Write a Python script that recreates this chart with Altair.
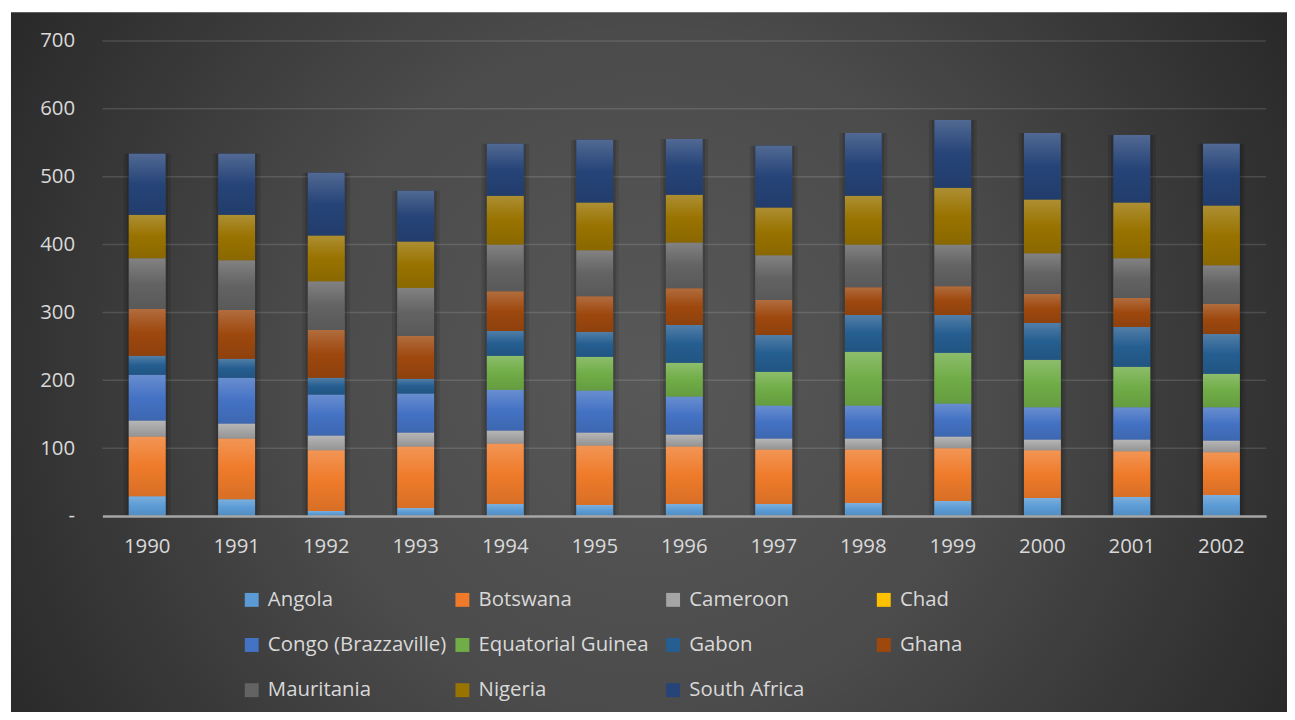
import altair as alt
import pandas as pd

years = ["1990", "1991", "1992", "1993", "1994", "1995", "1996",
         "1997", "1998", "1999", "2000", "2001", "2002"]
countries = ["Angola", "Botswana", "Cameroon", "Chad", "Congo (Brazzaville)",
             "Equatorial Guinea", "Gabon", "Ghana", "Mauritania", "Nigeria",
             "South Africa"]
colors = ["#5b9bd5", "#ef7b2a", "#a5a5a5", "#ffc000", "#4472c4",
          "#70ad47", "#255e91", "#9e480e", "#636363", "#997300", "#264478"]

angola = [29.3, 24.9, 7.3, 11.7, 17.6, 16.1, 17.6, 17.6, 19.1, 22.0, 26.4, 27.9, 30.8]
botswana = [88.0, 89.5, 89.5, 90.9, 89.4, 88.0, 85.0, 80.6, 79.1, 77.7, 70.4, 67.4, 63.0]
cameroon = [23.5, 22.0, 22.0, 20.6, 19.1, 19.1, 17.6, 16.2, 16.2, 17.6, 16.1, 17.6, 17.6]
chad = [0, 0, 0, 0, 0, 0, 0, 0, 0, 0, 0, 0, 0]
congo = [67.2, 67.4, 60.1, 57.2, 60.1, 61.6, 55.8, 48.4, 48.4, 48.4, 47.4, 47.4, 48.9]
eq_guinea = [0, 0, 0, 0, 49.9, 49.8, 49.8, 49.8, 79.1, 74.8, 69.9, 59.6, 49.4]
gabon = [28.0, 27.9, 24.9, 21.9, 36.6, 36.7, 55.7, 54.3, 54.3, 55.7, 54.3, 58.7, 58.6]
ghana = [69.0, 71.8, 70.4, 63.1, 58.7, 52.7, 54.3, 51.3, 41.0, 42.5, 42.5, 42.5, 44.0]
mauritania = [74.8, 73.5, 71.8, 70.8, 68.9, 67.5, 67.4, 66.0, 63.1, 61.6, 60.1, 58.7, 57.2]
nigeria = [64.2, 67.0, 67.5, 68.5, 71.8, 70.4, 70.4, 70.3, 71.8, 83.6, 79.2, 82.1, 88.0]
south_africa = [89.7, 89.7, 92.4, 74.8, 76.3, 92.4, 82.1, 91.0, 92.4, 99.7, 98.2, 99.7, 90.9]

y_ticks = [0, 100, 200, 300, 400, 500, 600, 700]
grid_values = [100, 200, 300, 400, 500, 600, 700]

series = [angola, botswana, cameroon, chad, congo, eq_guinea, gabon, ghana,
          mauritania, nigeria, south_africa]

rows = []
for ci, (name, vals) in enumerate(zip(countries, series)):
    for yr, v in zip(years, vals):
        rows.append({"year": yr, "country": name, "idx": ci, "value": v})
df = pd.DataFrame(rows)

FONT = "Open Sans"
FS = 20.5
TXT = "#d9d9d9"


def mix(hex_color, other, t):
    h = hex_color.lstrip("#")
    o = other.lstrip("#")
    c = [int(h[i:i + 2], 16) for i in (0, 2, 4)]
    d = [int(o[i:i + 2], 16) for i in (0, 2, 4)]
    r = [round(a + (b - a) * t) for a, b in zip(c, d)]
    return "#%02x%02x%02x" % tuple(r)


x_scale = alt.Scale(domain=years, paddingInner=0.59, paddingOuter=0.295)
y_scale = alt.Scale(domain=[0, 700], nice=False, zero=True)

x_axis = alt.Axis(title=None, labelAngle=0, ticks=False, grid=False,
                  domainColor="#a6a6a6", domainWidth=2.5,
                  labelPadding=21, labelFont=FONT, labelFontSize=FS,
                  labelColor=TXT, zindex=1)
y_axis = alt.Axis(title=None, values=y_ticks, grid=False, ticks=False,
                  domain=False, labelPadding=28, labelFont=FONT,
                  labelFontSize=FS, labelColor=TXT, zindex=1,
                  labelExpr="datum.value == 0 ? '-\u00a0\u00a0\u00a0' : datum.label")

X = alt.X("year:N", scale=x_scale, sort=years, axis=x_axis)

# background with radial gradient
bg = alt.Chart(pd.DataFrame({"k": [0]})).mark_rect(
    fill=alt.Gradient(
        gradient="radial",
        x1=0.5, y1=0.5, r1=0.0, x2=0.5, y2=0.5, r2=0.6,
        stops=[alt.GradientStop(color="#585858", offset=0),
               alt.GradientStop(color="#4b4b4b", offset=0.45),
               alt.GradientStop(color="#262626", offset=1)],
    )
).encode(
    x=alt.value(-92), x2=alt.value(1192), y=alt.value(-29), y2=alt.value(700)
)

grid = alt.Chart(pd.DataFrame({"g": grid_values})).mark_rule(
    color="#ffffff", opacity=0.13, strokeWidth=1.5
).encode(y=alt.Y("g:Q", scale=y_scale, axis=y_axis))

stacked = alt.Chart(df).transform_stack(
    stack="value", groupby=["year"], as_=["y0", "y1"],
    sort=[alt.SortField("idx", order="ascending")]
)

totals = alt.Chart(df).transform_aggregate(total="sum(value)", groupby=["year"])
shadow1 = totals.mark_bar(color="#000000", opacity=0.10, width={"band": 1.3}).encode(
    x=X, y=alt.Y("total:Q", scale=y_scale, axis=y_axis),
)
shadow2 = totals.mark_bar(color="#000000", opacity=0.14, width={"band": 1.14}).encode(
    x=X, y=alt.Y("total:Q", scale=y_scale, axis=y_axis),
)

base = stacked.mark_bar().encode(
    x=X,
    y=alt.Y("y0:Q", scale=y_scale, axis=y_axis),
    y2="y1:Q",
    color=alt.Color("country:N", sort=countries,
                    scale=alt.Scale(domain=countries, range=colors),
                    legend=alt.Legend(title=None, orient="none", legendX=140,
                                      legendY=552, columns=4, direction="horizontal",
                                      gridAlign="all",
                                      columnPadding=5, rowPadding=24.5,
                                      symbolType="square", symbolSize=196,
                                      symbolStrokeWidth=0, labelFont=FONT,
                                      labelFontSize=FS, labelColor=TXT,
                                      labelOffset=6, labelLimit=400, padding=0,
                                      zindex=1)),
)

overlays = []
for name, col in zip(countries, colors):
    grad = alt.Gradient(
        gradient="linear", x1=0, y1=0, x2=0, y2=1,
        stops=[alt.GradientStop(color=mix(col, "#ffffff", 0.2), offset=0),
               alt.GradientStop(color=col, offset=0.5),
               alt.GradientStop(color=mix(col, "#000000", 0.1), offset=1)],
    )
    layer = stacked.transform_filter(alt.datum.country == name).mark_bar(
        fill=grad
    ).encode(
        x=X,
        y=alt.Y("y0:Q", scale=y_scale, axis=y_axis),
        y2="y1:Q",
    )
    overlays.append(layer)

chart = alt.layer(bg, grid, shadow1, shadow2, base, *overlays).properties(
    width=1171, height=478, autosize="none",
    padding={"left": 95, "top": 31, "right": 21, "bottom": 195},
).configure_view(stroke=None)

chart.save("out.html", embed_options={"renderer": "svg", "actions": False})
